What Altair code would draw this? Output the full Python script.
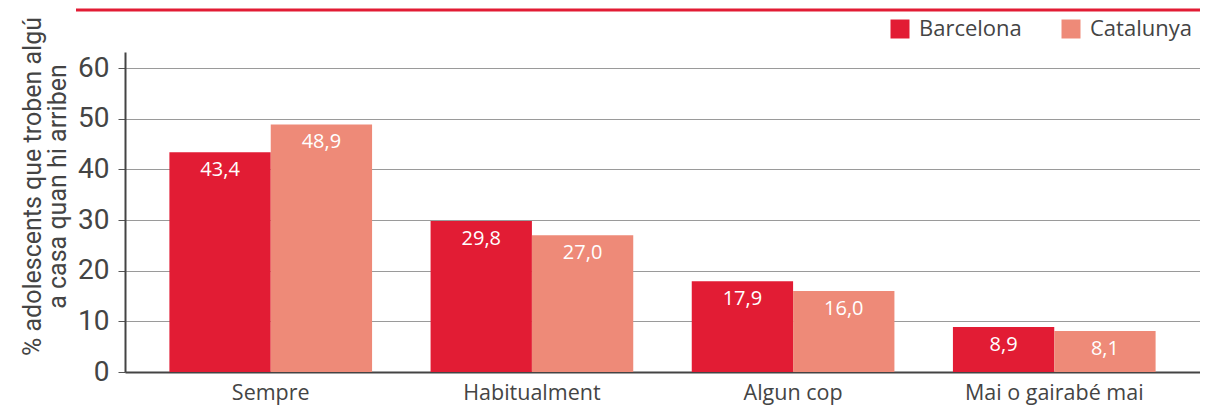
import altair as alt
import pandas as pd

categories = ["Sempre", "Habitualment", "Algun cop", "Mai o gairabé mai"]
series = ["Barcelona", "Catalunya"]
barcelona = [43.4, 29.8, 17.9, 8.9]
catalunya = [48.9, 27.0, 16.0, 8.1]
y_ticks = [0, 10, 20, 30, 40, 50, 60]
colors = ["#E21C34", "#EE8A78"]

rows = []
for c, b, k in zip(categories, barcelona, catalunya):
    for s, v in zip(series, [b, k]):
        rows.append({"cat": c, "serie": s, "val": v,
                     "label": f"{v:.1f}".replace(".", ",")})
df = pd.DataFrame(rows)

W, H = 1075, 320
PL, PT, PB = 117, 44, 35

x = alt.X("cat:N", sort=categories, title=None,
          scale=alt.Scale(paddingInner=0.224, paddingOuter=0.17),
          axis=alt.Axis(labelAngle=0, ticks=False, labelFontSize=21.5,
                        labelFont="Open Sans", labelColor="#444444",
                        labelPadding=10, labelLimit=0,
                        domainColor="#444444", domainWidth=2))
y = alt.Y("val:Q",
          scale=alt.Scale(domain=[0, 63.2], nice=False),
          axis=alt.Axis(values=y_ticks,
                        title=["% adolescents que troben algú",
                               "a casa quan hi arriben"],
                        titleFontSize=25, titleFont="Roboto",
                        titleFontWeight="normal", titleColor="#444444",
                        titleLineHeight=25, titleAngle=-90,
                        titleBaseline="alphabetic", titleAlign="center",
                        titleX=-85, titleY=134,
                        labelFontSize=28, labelFont="Roboto",
                        labelColor="#444444", labelPadding=9,
                        tickSize=7, tickColor="#555555",
                        domainColor="#444444", domainWidth=2,
                        grid=True, gridColor="#9a9a9a", gridWidth=1.2))

color = alt.Color("serie:N", sort=series,
                  scale=alt.Scale(domain=series, range=colors),
                  legend=alt.Legend(title=None, orient="none",
                                    direction="horizontal",
                                    legendX=764, legendY=-34,
                                    symbolType="square", symbolSize=361,
                                    symbolStrokeWidth=0, symbolOpacity=1,
                                    labelFontSize=22, labelFont="Open Sans",
                                    labelColor="#444444", labelOffset=8,
                                    columnPadding=38, padding=0))

bars = alt.Chart(df).mark_bar(opacity=1).encode(
    x=x, y=y, color=color,
    xOffset=alt.XOffset("serie:N", sort=series,
                        scale=alt.Scale(paddingInner=0, paddingOuter=0)),
)

text = alt.Chart(df).mark_text(baseline="top", dy=8, fontSize=20,
                               font="Open Sans", color="white").encode(
    x=alt.X("cat:N", sort=categories),
    y=alt.Y("val:Q"),
    xOffset=alt.XOffset("serie:N", sort=series),
    text="label:N",
)

rule = alt.Chart(pd.DataFrame({"a": [0]})).mark_rule(
    color="#E21C34", strokeWidth=3).encode(
    x=alt.value(-49), x2=alt.value(W), y=alt.value(-42))

chart = alt.layer(bars, text, rule).properties(
    width=W, height=H,
    autosize=alt.AutoSizeParams(type="none"),
    padding={"left": PL, "top": PT, "right": 0, "bottom": PB},
).configure_view(strokeWidth=0)

chart.save("out.html", embed_options={"renderer": "svg", "actions": False})
